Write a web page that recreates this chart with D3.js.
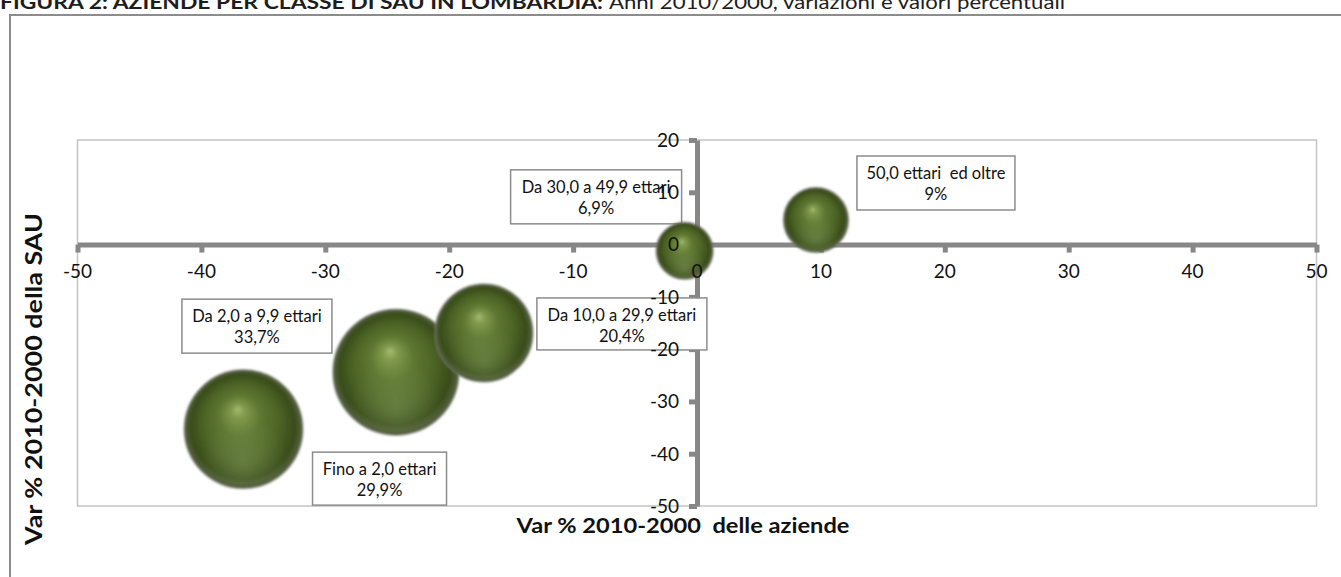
<!DOCTYPE html>
<html>
<head>
<meta charset="utf-8">
<script src="https://cdn.jsdelivr.net/npm/d3@7"></script>
<style>
  html, body { margin: 0; padding: 0; background: #fff; }
  svg { display: block; }
  text { font-family: Lato, "Open Sans", "Liberation Sans", sans-serif; }
</style>
</head>
<body>
<svg id="chart" width="1341" height="577"></svg>
<script>
// Farm size classes (SAU) in Lombardy, % change 2010/2000
const classes = [
  "Fino a 2,0 ettari",
  "Da 2,0 a 9,9 ettari",
  "Da 10,0 a 29,9 ettari",
  "Da 30,0 a 49,9 ettari",
  "50,0 ettari  ed oltre"
];
const varAziende = [-36.6, -24.3, -17.2, -1.0, 9.6];   // x: % change in farms
const varSau     = [-35.3, -24.4, -16.9, -1.2, 4.7];   // y: % change in SAU
const shares     = [29.9, 33.7, 20.4, 6.9, 9];          // bubble size: % share
const shareLabels = ["29,9%", "33,7%", "20,4%", "6,9%", "9%"];
const xTicks = [-50, -40, -30, -20, -10, 0, 10, 20, 30, 40, 50];
const yTicks = [20, 10, 0, -10, -20, -30, -40, -50];

// Label box placement relative to each bubble centre (px)
const labelBoxes = [
  { dx: 69,   dy: 23,  w: 134, h: 53 },
  { dx: -214, dy: -73, w: 150, h: 54 },
  { dx: 53,   dy: -35, w: 170, h: 52 },
  { dx: -174, dy: -81, w: 171, h: 54 },
  { dx: 41,   dy: -64, w: 158, h: 54 }
];

const svg = d3.select("#chart");
const plot = { left: 77.5, right: 1316.5, top: 140, bottom: 506 };

const x = d3.scaleLinear().domain([-50, 50]).range([plot.left, plot.right]);
const y = d3.scaleLinear().domain([-50, 20]).range([plot.bottom, plot.top]);
const r = d3.scaleSqrt().domain([0, 33.7]).range([0, 63]);

const data = classes.map((c, i) => ({
  name: c, xv: varAziende[i], yv: varSau[i], size: shares[i],
  label: shareLabels[i], box: labelBoxes[i]
}));

// Sphere shading
const defs = svg.append("defs");
const grad = defs.append("radialGradient")
  .attr("id", "sphere").attr("cx", "50%").attr("cy", "50%").attr("r", "50%")
  .attr("fx", "45%").attr("fy", "33%");
[[0, "#a3bb74"], [0.12, "#80994c"], [0.35, "#5e7731"], [0.65, "#4c6325"], [0.88, "#394c1a"], [1, "#5a6345"]]
  .forEach(([o, c]) => grad.append("stop").attr("offset", o).attr("stop-color", c));
const shine = defs.append("radialGradient")
  .attr("id", "shine").attr("cx", "50%").attr("cy", "80%").attr("r", "40%");
shine.append("stop").attr("offset", 0).attr("stop-color", "#8fa86a").attr("stop-opacity", 0.4);
shine.append("stop").attr("offset", 1).attr("stop-color", "#8fa86a").attr("stop-opacity", 0);
defs.append("filter").attr("id", "soft").attr("x", "-10%").attr("y", "-10%")
  .attr("width", "120%").attr("height", "120%")
  .append("feGaussianBlur").attr("stdDeviation", 0.9);

// Title
svg.append("text").attr("x", 0).attr("y", 9)
  .attr("font-size", 19).attr("font-weight", "bold").attr("fill", "#1d1d1d")
  .attr("textLength", 603).attr("lengthAdjust", "spacingAndGlyphs")
  .text("FIGURA 2: AZIENDE PER CLASSE DI SAU IN LOMBARDIA:");
svg.append("text").attr("x", 609).attr("y", 9)
  .attr("font-size", 19).attr("fill", "#1d1d1d")
  .attr("textLength", 456).attr("lengthAdjust", "spacingAndGlyphs")
  .text("Anni 2010/2000, variazioni e valori percentuali");

// Outer chart frame
svg.append("rect").attr("x", 10).attr("y", 15).attr("width", 1345).attr("height", 580)
  .attr("fill", "none").attr("stroke", "#8c8c8c").attr("stroke-width", 2);

// Plot area border
svg.append("rect").attr("x", plot.left).attr("y", plot.top)
  .attr("width", plot.right - plot.left).attr("height", plot.bottom - plot.top)
  .attr("fill", "none").attr("stroke", "#c4c4c4").attr("stroke-width", 1.5);

// Axis lines and tick marks
const axisColor = "#878787";
const gx = svg.append("g").attr("transform", `translate(0,${y(0)})`)
  .call(d3.axisBottom(x).tickValues(xTicks).tickSize(8).tickSizeOuter(0).tickFormat(""));
const gy = svg.append("g").attr("transform", `translate(${x(0)},0)`)
  .call(d3.axisLeft(y).tickValues(yTicks).tickSize(8).tickSizeOuter(0).tickFormat(""));
[gx, gy].forEach(g => {
  g.select(".domain").attr("stroke", axisColor).attr("stroke-width", 5);
  g.selectAll(".tick line").attr("stroke", axisColor).attr("stroke-width", 5);
});

// Data label boxes
const labels = svg.append("g").selectAll("g").data(data).join("g")
  .attr("transform", d => `translate(${x(d.xv) + d.box.dx},${y(d.yv) + d.box.dy})`);
labels.append("rect").attr("width", d => d.box.w).attr("height", d => d.box.h)
  .attr("fill", "#fff").attr("stroke", "#8c8c8c").attr("stroke-width", 1.5);
labels.append("text").attr("x", d => d.box.w / 2).attr("y", 23)
  .attr("text-anchor", "middle").attr("font-size", 16.5).attr("fill", "#111")
  .style("white-space", "pre").text(d => d.name);
labels.append("text").attr("x", d => d.box.w / 2).attr("y", 44)
  .attr("text-anchor", "middle").attr("font-size", 16.5).attr("fill", "#111")
  .text(d => d.label);

// Bubbles, largest first
const bubbles = svg.append("g").selectAll("g")
  .data(data.slice().sort((a, b) => b.size - a.size)).join("g")
  .attr("filter", "url(#soft)");
bubbles.append("circle").attr("cx", d => x(d.xv)).attr("cy", d => y(d.yv))
  .attr("r", d => r(d.size)).attr("fill", "url(#sphere)")
  .attr("stroke", "#7a7f72").attr("stroke-opacity", 0.6).attr("stroke-width", 1.5);
bubbles.append("circle").attr("cx", d => x(d.xv)).attr("cy", d => y(d.yv))
  .attr("r", d => r(d.size) * 0.95).attr("fill", "url(#shine)");

// Tick labels on top
const tl = svg.append("g").attr("font-size", 19).attr("fill", "#111");
tl.selectAll(".xl").data(xTicks).join("text").attr("class", "xl")
  .attr("x", d => x(d)).attr("y", y(0) + 33).attr("text-anchor", "middle")
  .text(d => d);
tl.selectAll(".yl").data(yTicks).join("text").attr("class", "yl")
  .attr("x", x(0) - 18).attr("y", d => y(d)).attr("dy", "0.36em").attr("text-anchor", "end")
  .text(d => d);

// Axis titles
svg.append("text").attr("x", 683).attr("y", 533).attr("text-anchor", "middle")
  .attr("font-size", 21).attr("font-weight", "bold").attr("fill", "#111")
  .attr("textLength", 333).attr("lengthAdjust", "spacingAndGlyphs")
  .style("white-space", "pre").text("Var % 2010-2000  delle aziende");
svg.append("text").attr("transform", "translate(42,379) rotate(-90)")
  .attr("text-anchor", "middle").attr("font-size", 22).attr("font-weight", "bold")
  .attr("fill", "#111")
  .attr("textLength", 332).attr("lengthAdjust", "spacingAndGlyphs")
  .text("Var % 2010-2000 della SAU");
</script>
</body>
</html>
